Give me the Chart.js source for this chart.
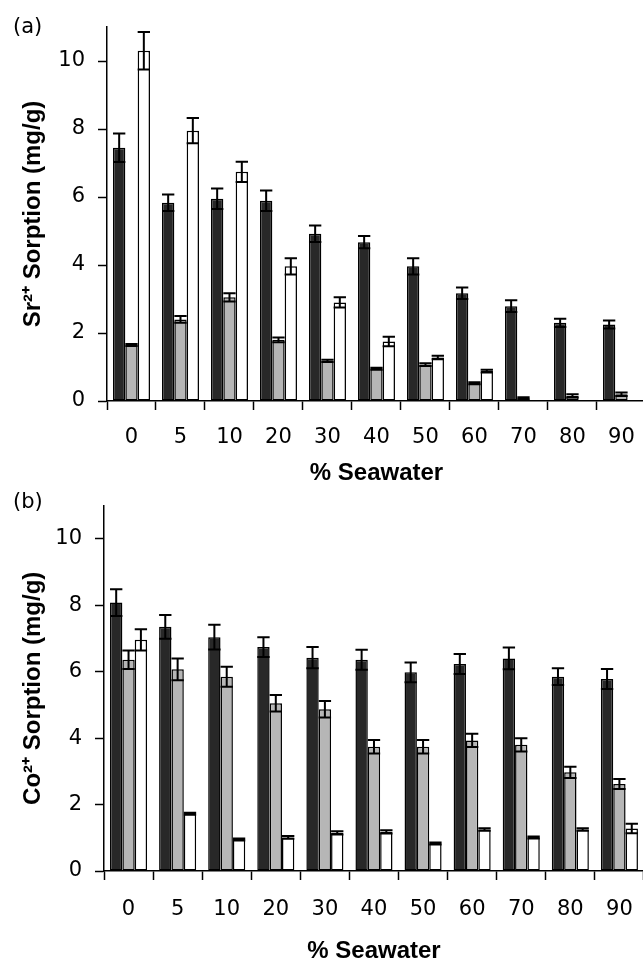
<!DOCTYPE html>
<html>
<head>
<meta charset="utf-8">
<script src="https://cdn.jsdelivr.net/npm/chart.js@4"></script>
<style>
    html, body { margin: 0; padding: 0; background: #fff; overflow: hidden; width: 643px; height: 963px; }
    canvas { position: absolute; left: 0; }
    #chartA { top: 0; }
    #chartB { top: 480px; }
</style>
</head>
<body>
<canvas id="chartA" width="650" height="500"></canvas>
<canvas id="chartB" width="650" height="500"></canvas>
<script>
// Categories (% seawater)
const seawater = ['0', '5', '10', '20', '30', '40', '50', '60', '70', '80', '90'];

// Panel (a): Sr2+ sorption (mg/g)
const srBlack    = [7.45, 5.83, 5.95, 5.89, 4.92, 4.67, 3.96, 3.17, 2.79, 2.30, 2.25];
const srBlackErr = [0.42, 0.24, 0.30, 0.30, 0.24, 0.18, 0.24, 0.17, 0.17, 0.12, 0.12];
const srGray     = [1.65, 2.40, 3.05, 1.80, 1.18, 0.95, 1.07, 0.52, 0.08, 0.15, 0.20];
const srGrayErr  = [0.03, 0.10, 0.12, 0.07, 0.03, 0.03, 0.04, 0.03, 0.03, 0.05, 0.05];
const srWhite    = [10.3, 7.95, 6.74, 3.96, 2.90, 1.75, 1.28, 0.88, 0, 0, 0];
const srWhiteErr = [0.55, 0.37, 0.30, 0.24, 0.15, 0.14, 0.05, 0.04, 0, 0, 0];

// Panel (b): Co2+ sorption (mg/g)
const coBlack    = [8.08, 7.35, 7.04, 6.74, 6.42, 6.36, 5.98, 6.23, 6.40, 5.85, 5.78];
const coBlackErr = [0.40, 0.36, 0.37, 0.30, 0.32, 0.30, 0.30, 0.30, 0.33, 0.25, 0.30];
const coGray     = [6.36, 6.07, 5.85, 5.05, 4.87, 3.74, 3.74, 3.93, 3.80, 2.97, 2.62];
const coGrayErr  = [0.28, 0.33, 0.30, 0.25, 0.25, 0.20, 0.20, 0.20, 0.20, 0.17, 0.15];
const coWhite    = [6.96, 1.72, 0.95, 1.01, 1.15, 1.18, 0.83, 1.25, 1.01, 1.25, 1.28];
const coWhiteErr = [0.32, 0.03, 0.03, 0.04, 0.05, 0.05, 0.03, 0.04, 0.03, 0.04, 0.14];

// Y axis tick range
const yMin = 0;
const yMax = 11;
const yStep = 2;

Chart.defaults.font.family = 'DejaVu Sans';
Chart.defaults.color = '#000';

// Draws +/- error bars on top of each bar
const errorBars = {
    id: 'errorBars',
    afterDatasetsDraw(chart) {
        const ctx = chart.ctx;
        const yScale = chart.scales.y;
        chart.data.datasets.forEach((ds, i) => {
            const meta = chart.getDatasetMeta(i);
            meta.data.forEach((bar, j) => {
                const e = ds.errors[j];
                if (!e) return;
                const v = ds.data[j];
                const hi = yScale.getPixelForValue(v + e);
                const lo = yScale.getPixelForValue(Math.max(v - e, 0));
                const half = bar.width / 2;
                ctx.save();
                ctx.strokeStyle = '#000';
                ctx.lineWidth = 2;
                ctx.beginPath();
                ctx.moveTo(bar.x, hi); ctx.lineTo(bar.x, lo);
                ctx.moveTo(bar.x - half, hi); ctx.lineTo(bar.x + half, hi);
                ctx.moveTo(bar.x - half, lo); ctx.lineTo(bar.x + half, lo);
                ctx.stroke();
                ctx.restore();
            });
        });
    }
};

// "(a)" / "(b)" panel tag
const panelTag = {
    id: 'panelTag',
    afterDraw(chart, args, opts) {
        const ctx = chart.ctx;
        ctx.save();
        ctx.font = '21px "DejaVu Sans"';
        ctx.fillStyle = '#000';
        ctx.textBaseline = 'middle';
        ctx.fillText(opts.text, opts.x, opts.y);
        ctx.restore();
    }
};

function makeDataset(data, errors, fill) {
    return {
        data: data,
        errors: errors,
        backgroundColor: fill,
        borderColor: '#000',
        borderWidth: 1.5,
        borderSkipped: false,
        categoryPercentage: 0.755,
        barPercentage: 1.0
    };
}

function makeChart(id, cfg) {
    return new Chart(document.getElementById(id), {
        type: 'bar',
        data: {
            labels: seawater,
            datasets: [
                makeDataset(cfg.black, cfg.blackErr, '#282828'),
                makeDataset(cfg.gray, cfg.grayErr, '#b6b6b6'),
                makeDataset(cfg.white, cfg.whiteErr, '#ffffff')
            ]
        },
        options: {
            responsive: false,
            animation: false,
            layout: { padding: { top: cfg.top, right: cfg.right, left: 0, bottom: 0 } },
            plugins: {
                legend: { display: false },
                tooltip: { enabled: false },
                panelTag: { text: cfg.tag, x: 13, y: cfg.tagY }
            },
            scales: {
                x: {
                    offset: true,
                    grid: { drawOnChartArea: false, drawTicks: true, tickLength: 9, tickWidth: 1.5, tickColor: '#000', offset: true },
                    border: { color: '#000', width: 1.5 },
                    ticks: { font: { size: 21 }, padding: cfg.xTickPad, maxRotation: 0, autoSkip: false },
                    title: {
                        display: true,
                        text: '% Seawater',
                        font: { family: 'Liberation Sans', size: 24, weight: 'bold' },
                        padding: { top: 0, bottom: cfg.xTitlePad }
                    },
                    afterFit(scale) { scale.height = cfg.xHeight; }
                },
                y: {
                    min: yMin,
                    max: yMax,
                    grid: { drawOnChartArea: false, drawTicks: true, tickLength: 9, tickWidth: 1.5, tickColor: '#000' },
                    border: { color: '#000', width: 1.5 },
                    ticks: { stepSize: yStep, includeBounds: false, font: { size: 21 }, padding: 13 },
                    title: {
                        display: true,
                        text: cfg.yTitle,
                        font: { family: 'Liberation Sans', size: 24, weight: 'bold' },
                        padding: { top: 19, bottom: 0 }
                    },
                    afterFit(scale) { scale.width = cfg.yWidth; }
                }
            }
        },
        plugins: [errorBars, panelTag]
    });
}

makeChart('chartA', {
    black: srBlack, blackErr: srBlackErr,
    gray: srGray, grayErr: srGrayErr,
    white: srWhite, whiteErr: srWhiteErr,
    yTitle: 'Sr²⁺ Sorption (mg/g)',
    tag: '(a)', tagY: 28,
    top: 27, right: 4, yWidth: 107,
    xHeight: 99, xTickPad: 15, xTitlePad: 12
});

makeChart('chartB', {
    black: coBlack, blackErr: coBlackErr,
    gray: coGray, grayErr: coGrayErr,
    white: coWhite, whiteErr: coWhiteErr,
    yTitle: 'Co²⁺ Sorption (mg/g)',
    tag: '(b)', tagY: 23,
    top: 25, right: 5, yWidth: 104,
    xHeight: 109, xTickPad: 17, xTitlePad: 14
});
</script>
</body>
</html>
